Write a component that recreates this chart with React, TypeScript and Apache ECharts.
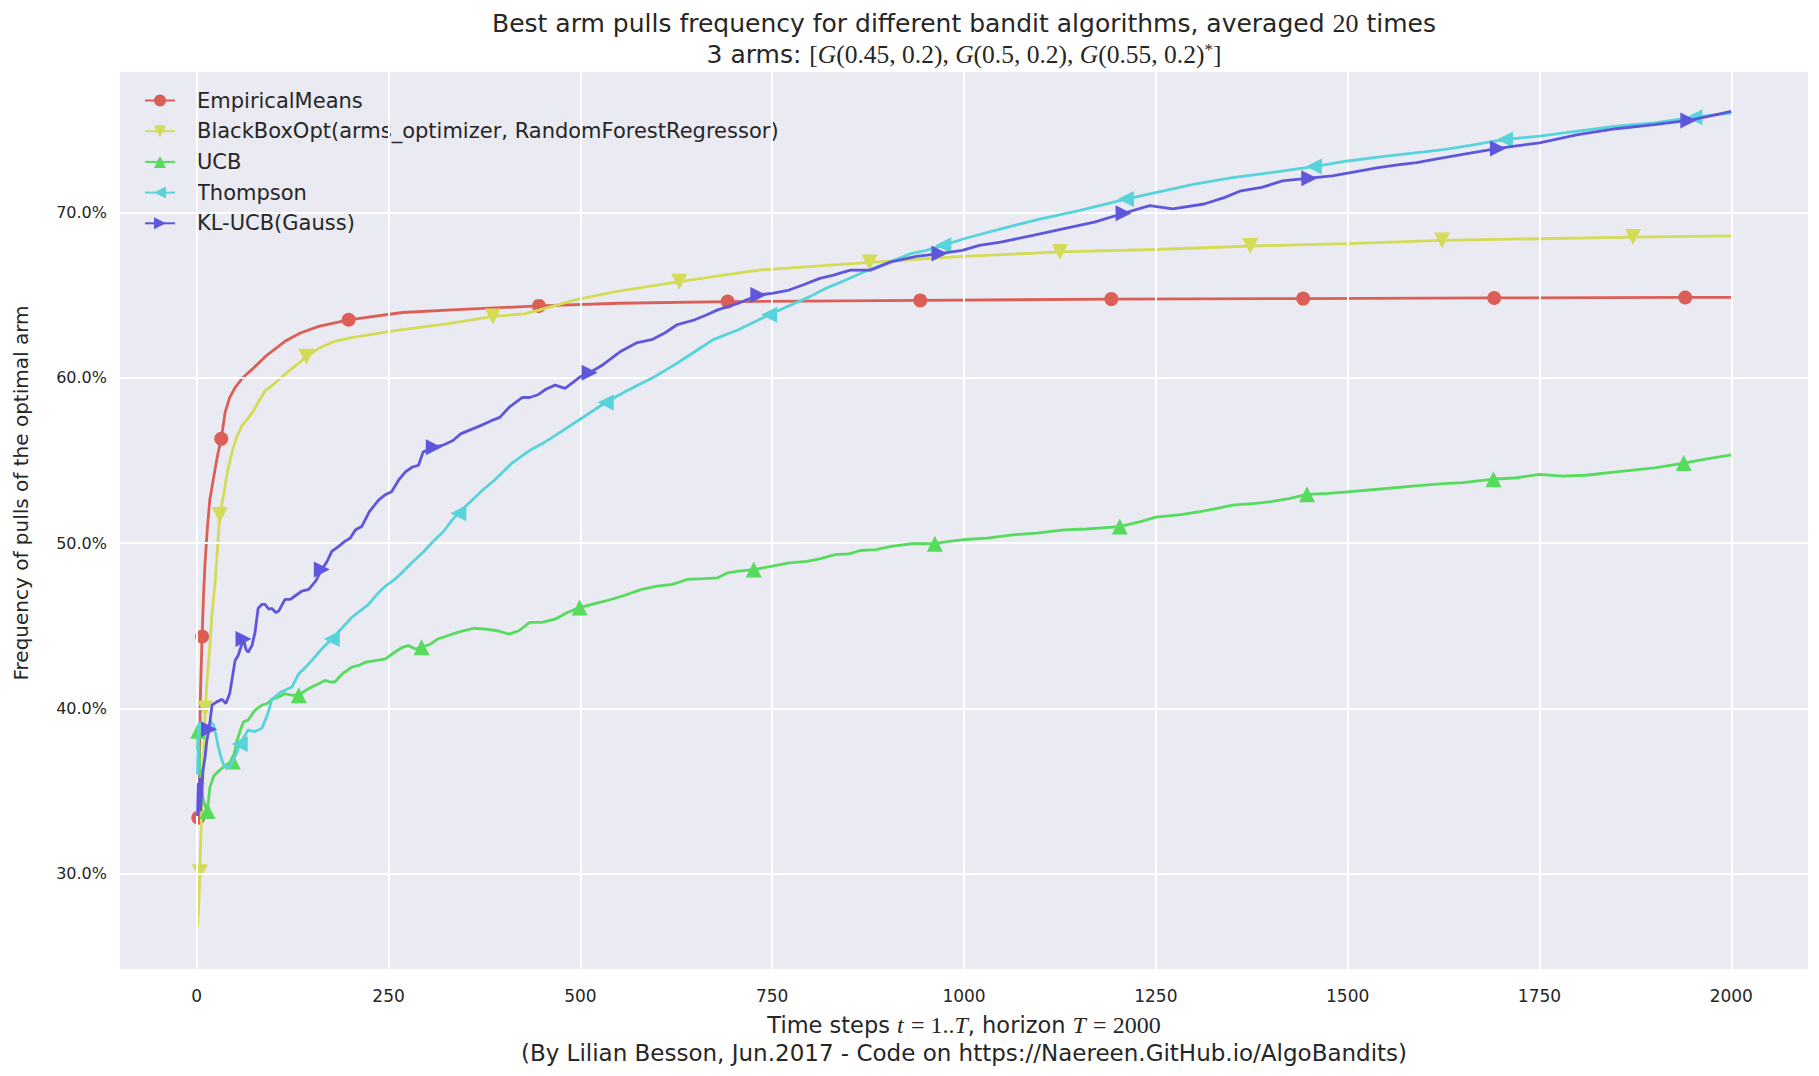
import React, { useEffect, useRef } from "react";
import * as echarts from "echarts";

const xTickValues = [0, 250, 500, 750, 1000, 1250, 1500, 1750, 2000];
const yTickValues = [30, 40, 50, 60, 70];

const seriesNames = [
  "EmpiricalMeans",
  "BlackBoxOpt(arms_optimizer, RandomForestRegressor)",
  "UCB",
  "Thompson",
  "KL-UCB(Gauss)",
];
const seriesColors = ["#db5f57", "#d3db57", "#57db5f", "#57d3db", "#5f57db"];

const empiricalMeans: [number, number][] = [
  [2, 33.4], [3, 36.0], [4, 38.5], [5, 41.1], [7, 44.35], [9, 47.0], [11, 48.9], [14, 51.0],
  [17, 52.6], [20, 53.4], [24, 54.5], [28, 55.5], [32, 56.3], [37, 57.9], [43, 58.8], [50, 59.4],
  [60, 60.0], [72, 60.5], [90, 61.3], [115, 62.2], [135, 62.7], [159, 63.1], [198, 63.5],
  [268, 63.94], [333, 64.1], [446, 64.34], [550, 64.5], [692, 64.6], [943, 64.67], [1192, 64.75],
  [1442, 64.78], [1691, 64.82], [1940, 64.85], [2000, 64.86],
];
const empiricalMarkers = [2, 7, 32, 198, 446, 692, 943, 1192, 1442, 1691, 1940];

const blackBoxOpt: [number, number][] = [
  [1, 26.8], [3, 28.5], [4, 30.1], [6, 33.2], [9, 37.1], [11, 40.0], [14, 42.0], [17, 43.7],
  [20, 45.8], [24, 47.6], [30, 51.7], [35, 52.9], [40, 54.3], [46, 55.5], [52, 56.4], [59, 57.1],
  [66, 57.5], [72, 57.85], [80, 58.5], [89, 59.2], [100, 59.6], [115, 60.2], [128, 60.7],
  [143, 61.26], [160, 61.8], [180, 62.2], [200, 62.4], [246, 62.75], [268, 62.9], [333, 63.3],
  [386, 63.7], [427, 63.86], [447, 64.1], [493, 64.7], [546, 65.2], [629, 65.8], [732, 66.5],
  [877, 66.97], [998, 67.33], [1125, 67.6], [1250, 67.75], [1373, 67.96], [1500, 68.1],
  [1623, 68.3], [1750, 68.4], [1872, 68.5], [2000, 68.57],
];
const blackBoxMarkers = [4, 11, 30, 143, 386, 629, 877, 1125, 1373, 1623, 1872];

const ucb: [number, number][] = [
  [1, 37.5], [2, 38.65], [4, 36.6], [6, 35.2], [9, 34.4], [12, 34.0], [14, 33.8], [17, 35.2],
  [22, 35.9], [28, 36.2], [36, 36.5], [42, 36.7], [47, 36.8], [52, 38.0], [57, 38.7], [61, 39.2],
  [67, 39.3], [76, 39.9], [85, 40.2], [92, 40.3], [98, 40.55], [107, 40.7], [115, 40.9],
  [124, 40.8], [133, 40.8], [142, 41.1], [150, 41.3], [159, 41.5], [167, 41.7], [174, 41.6],
  [180, 41.6], [190, 42.1], [202, 42.5], [211, 42.6], [220, 42.8], [233, 42.9], [246, 43.0],
  [258, 43.4], [268, 43.7], [276, 43.8], [285, 43.6], [293, 43.7], [305, 43.9], [314, 44.2],
  [324, 44.35], [340, 44.6], [361, 44.85], [377, 44.8], [392, 44.7], [407, 44.5], [420, 44.7],
  [434, 45.2], [450, 45.2], [467, 45.4], [483, 45.8], [499, 46.1], [515, 46.3], [533, 46.5],
  [555, 46.8], [580, 47.2], [600, 47.4], [620, 47.5], [639, 47.8], [660, 47.85], [679, 47.9],
  [692, 48.2], [706, 48.3], [726, 48.4], [750, 48.6], [772, 48.8], [795, 48.9], [812, 49.05],
  [832, 49.3], [850, 49.35], [865, 49.55], [885, 49.6], [905, 49.8], [931, 49.96], [962, 49.96],
  [980, 50.1], [998, 50.2], [1030, 50.3], [1064, 50.5], [1095, 50.6], [1130, 50.8], [1160, 50.85],
  [1203, 51.0], [1230, 51.3], [1250, 51.57], [1280, 51.7], [1308, 51.9], [1330, 52.1],
  [1350, 52.3], [1380, 52.4], [1400, 52.5], [1425, 52.7], [1447, 52.95], [1475, 53.0],
  [1500, 53.1], [1550, 53.3], [1600, 53.5], [1625, 53.6], [1650, 53.65], [1690, 53.86],
  [1720, 53.95], [1750, 54.15], [1780, 54.05], [1810, 54.1], [1850, 54.3], [1900, 54.55],
  [1938, 54.84], [1970, 55.1], [2000, 55.33],
];
const ucbMarkers = [2, 14, 47, 133, 293, 499, 726, 962, 1203, 1447, 1690, 1938];

const thompson: [number, number][] = [
  [1, 36.0], [2, 38.5], [4, 39.2], [7, 38.6], [10, 38.9], [13, 38.8], [18, 39.2], [22, 39.0],
  [25, 38.4], [28, 37.7], [32, 37.0], [35, 36.6], [39, 36.4], [43, 36.5], [46, 36.75], [52, 37.3],
  [56, 37.85], [62, 38.3], [67, 38.7], [75, 38.6], [85, 38.8], [92, 39.6], [98, 40.55],
  [110, 41.0], [124, 41.3], [133, 42.1], [142, 42.5], [150, 42.9], [163, 43.6], [176, 44.2],
  [190, 44.9], [202, 45.5], [213, 45.9], [224, 46.3], [235, 46.9], [246, 47.4], [258, 47.8],
  [268, 48.24], [280, 48.8], [295, 49.45], [308, 50.1], [321, 50.67], [333, 51.4], [341, 51.8],
  [361, 52.7], [375, 53.3], [388, 53.8], [410, 54.8], [434, 55.6], [450, 56.0], [467, 56.5],
  [500, 57.5], [533, 58.5], [560, 59.2], [593, 59.96], [626, 60.87], [650, 61.6], [673, 62.3],
  [706, 62.9], [746, 63.8], [770, 64.3], [799, 64.9], [820, 65.4], [846, 65.9], [870, 66.4],
  [892, 66.8], [931, 67.5], [951, 67.7], [973, 68.0], [1000, 68.4], [1048, 69.0], [1100, 69.6],
  [1150, 70.1], [1211, 70.8], [1260, 71.3], [1300, 71.7], [1350, 72.1], [1400, 72.4],
  [1456, 72.76], [1500, 73.1], [1550, 73.4], [1600, 73.65], [1627, 73.8], [1660, 74.05],
  [1705, 74.4], [1750, 74.6], [1800, 74.9], [1850, 75.2], [1900, 75.4], [1952, 75.75],
  [2000, 76.0],
];
const thompsonMarkers = [56, 176, 341, 533, 746, 973, 1211, 1456, 1705, 1952];

const klUcb: [number, number][] = [
  [1, 33.5], [2, 35.5], [3, 34.0], [4, 35.8], [5, 33.8], [6, 34.5], [8, 36.2], [11, 37.1],
  [13, 38.0], [16, 38.75], [20, 40.2], [26, 40.4], [33, 40.55], [38, 40.3], [43, 40.9],
  [50, 42.9], [54, 43.2], [61, 44.2], [64, 43.6], [67, 43.4], [72, 43.8], [76, 44.6], [80, 46.05],
  [85, 46.3], [89, 46.3], [94, 46.0], [98, 46.05], [103, 45.8], [107, 45.9], [115, 46.6],
  [122, 46.6], [128, 46.8], [137, 47.1], [146, 47.2], [155, 47.7], [163, 48.4], [170, 48.9],
  [176, 49.5], [185, 49.8], [193, 50.1], [200, 50.3], [207, 50.8], [215, 51.0], [225, 51.9],
  [237, 52.6], [245, 52.9], [254, 53.1], [263, 53.8], [272, 54.3], [281, 54.6], [289, 54.7],
  [295, 55.5], [309, 55.8], [320, 55.9], [334, 56.2], [344, 56.6], [354, 56.8], [370, 57.1],
  [384, 57.4], [395, 57.6], [407, 58.2], [424, 58.8], [434, 58.8], [444, 58.95], [455, 59.3],
  [467, 59.55], [480, 59.35], [490, 59.7], [500, 60.06], [512, 60.3], [530, 60.8], [553, 61.6],
  [573, 62.1], [593, 62.3], [610, 62.7], [626, 63.2], [649, 63.5], [665, 63.8], [679, 64.1],
  [706, 64.5], [732, 65.0], [750, 65.1], [772, 65.3], [790, 65.6], [812, 66.0], [830, 66.2],
  [852, 66.5], [878, 66.5], [905, 67.0], [938, 67.33], [968, 67.5], [998, 67.7], [1020, 68.0],
  [1048, 68.2], [1090, 68.6], [1129, 69.0], [1170, 69.4], [1208, 69.94], [1242, 70.4],
  [1272, 70.2], [1313, 70.5], [1340, 70.9], [1361, 71.3], [1388, 71.5], [1415, 71.9],
  [1450, 72.06], [1480, 72.2], [1511, 72.46], [1540, 72.7], [1565, 72.86], [1590, 73.0],
  [1613, 73.2], [1650, 73.5], [1696, 73.86], [1750, 74.2], [1800, 74.7], [1850, 75.05],
  [1900, 75.3], [1944, 75.55], [1970, 75.8], [2000, 76.1],
];
const klUcbMarkers = [16, 61, 163, 309, 512, 732, 968, 1208, 1450, 1696, 1944];

const TEXT = "#262626";
const SANS = "DejaVu Sans";
const SERIF = "Liberation Serif";

function buildSeries(
  idx: number,
  data: [number, number][],
  markers: number[],
  symbol: string,
  rotate: number,
  size: number
) {
  const set = new Set(markers);
  const color = seriesColors[idx];
  return {
    type: "line",
    name: seriesNames[idx],
    color,
    symbol,
    symbolRotate: rotate,
    symbolSize: size,
    showSymbol: true,
    showAllSymbol: true,
    z: 3 + idx,
    silent: true,
    lineStyle: { width: 2.8, color },
    itemStyle: { color, opacity: 1 },
    emphasis: { disabled: true },
    data: data.map(([t, v]) =>
      set.has(t) ? { value: [t, v] } : { value: [t, v], symbol: "none" }
    ),
  };
}

export default function App() {
  const ref = useRef<HTMLDivElement>(null);
  useEffect(() => {
    if (!ref.current) return;
    const chart = echarts.init(ref.current, null, { renderer: "svg" });
    const option: any = {
      animation: false,
      backgroundColor: "#ffffff",
      textStyle: { fontFamily: SANS },
      grid: {
        left: 120,
        right: 11,
        top: 72,
        bottom: 107,
        show: true,
        backgroundColor: "#EAEAF2",
        borderWidth: 0,
        containLabel: false,
      },
      legend: {
        orient: "vertical",
        left: 139,
        top: 85,
        itemWidth: 30,
        itemHeight: 15,
        itemGap: 9.7,
        data: seriesNames,
        selectedMode: false,
        textStyle: {
          fontFamily: SANS,
          fontSize: 21,
          color: TEXT,
          lineHeight: 21,
          padding: [0, 0, 0, 17],
        },
      },
      xAxis: {
        type: "value",
        min: -100,
        max: 2100,
        axisLine: { show: false },
        axisTick: { show: false, customValues: xTickValues },
        splitLine: { show: false },
        axisLabel: {
          customValues: xTickValues,
          formatter: (v: number) => String(v),
          fontFamily: SANS,
          fontSize: 17,
          color: TEXT,
          margin: 18.5,
        },
      },
      yAxis: {
        type: "value",
        min: 24.25,
        max: 78.48,
        axisLine: { show: false },
        axisTick: { show: false, customValues: yTickValues },
        splitLine: { show: false },
        axisLabel: {
          customValues: yTickValues,
          formatter: (v: number) => v.toFixed(1) + "%",
          fontFamily: SANS,
          fontSize: 16,
          color: TEXT,
          margin: 13,
        },
      },
      graphic: [
        {
          type: "text",
          x: 964,
          y: 23,
          style: {
            text: "Best arm pulls frequency for different bandit algorithms, averaged {m|20} times",
            fontFamily: SANS,
            fontSize: 25,
            fill: TEXT,
            align: "center",
            verticalAlign: "middle",
            rich: { m: { fontFamily: SERIF, fontSize: 26, fill: TEXT } },
          },
        },
        {
          type: "text",
          x: 964,
          y: 54,
          style: {
            text:
              "3 arms: {m|[}{i|G}{m|(0.45, 0.2), }{i|G}{m|(0.5, 0.2), }{i|G}{m|(0.55, 0.2)}{s|*}{m|]}",
            fontFamily: SANS,
            fontSize: 25,
            fill: TEXT,
            align: "center",
            verticalAlign: "middle",
            rich: {
              m: { fontFamily: SERIF, fontSize: 25.5, fill: TEXT },
              i: { fontFamily: SERIF, fontStyle: "italic", fontSize: 25.5, fill: TEXT },
              s: { fontFamily: SERIF, fontSize: 17, fill: TEXT, verticalAlign: "top" },
            },
          },
        },
        {
          type: "text",
          x: 964,
          y: 1025,
          style: {
            text: "Time steps {i|t} {m|= 1..}{i|T}, horizon {i|T} {m|= 2000}",
            fontFamily: SANS,
            fontSize: 22.5,
            fill: TEXT,
            align: "center",
            verticalAlign: "middle",
            rich: {
              m: { fontFamily: SERIF, fontSize: 24, fill: TEXT },
              i: { fontFamily: SERIF, fontStyle: "italic", fontSize: 24, fill: TEXT },
            },
          },
        },
        {
          type: "text",
          x: 964,
          y: 1053,
          style: {
            text: "(By Lilian Besson, Jun.2017 - Code on https://Naereen.GitHub.io/AlgoBandits)",
            fontFamily: SANS,
            fontSize: 23,
            fill: TEXT,
            align: "center",
            verticalAlign: "middle",
          },
        },
        {
          type: "text",
          x: 21,
          y: 493,
          rotation: Math.PI / 2,
          style: {
            text: "Frequency of pulls of the optimal arm",
            fontFamily: SANS,
            fontSize: 20,
            fill: TEXT,
            align: "center",
            verticalAlign: "middle",
          },
        },
      ],
      series: [
        {
          type: "line",
          name: "__grid",
          data: [],
          silent: true,
          z: 1,
          markLine: {
            silent: true,
            symbol: ["none", "none"],
            label: { show: false },
            emphasis: { disabled: true },
            lineStyle: { color: "#ffffff", width: 2, type: "solid", opacity: 1 },
            data: [
              ...xTickValues.map((v) => ({ xAxis: v })),
              ...yTickValues.map((v) => ({ yAxis: v })),
            ],
          },
        },
        buildSeries(0, empiricalMeans, empiricalMarkers, "circle", 0, 14),
        buildSeries(1, blackBoxOpt, blackBoxMarkers, "triangle", 180, 16),
        buildSeries(2, ucb, ucbMarkers, "triangle", 0, 16),
        buildSeries(3, thompson, thompsonMarkers, "triangle", 90, 16),
        buildSeries(4, klUcb, klUcbMarkers, "triangle", -90, 16),
      ],
    };
    chart.setOption(option);
    return () => chart.dispose();
  }, []);
  return (
    <div
      ref={ref}
      style={{ position: "fixed", left: 0, top: 0, width: "1819px", height: "1076px" }}
    />
  );
}
